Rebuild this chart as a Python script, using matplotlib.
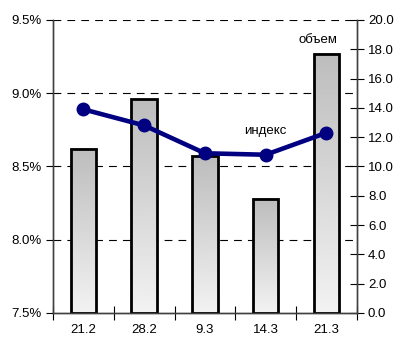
import numpy as np
import matplotlib.pyplot as plt

plt.rcParams['font.family'] = ['Liberation Sans', 'DejaVu Sans']

dates = ["21.2", "28.2", "9.3", "14.3", "21.3"]
volume = [11.2, 14.6, 10.7, 7.8, 17.7]
index_pct = [8.89, 8.78, 8.59, 8.58, 8.73]

fig = plt.figure(figsize=(4.06, 3.38), dpi=100)
ax = fig.add_subplot(111)
fig.subplots_adjust(left=0.1305, right=0.879, top=0.941, bottom=0.074)

x = np.arange(len(dates))

# dashed grid behind bars
for v in [5, 10, 15, 20]:
    ax.axhline(v, color='black', linestyle=(0, (7, 5.5)), linewidth=0.8, zorder=0)

bars = ax.bar(x, volume, width=0.42, facecolor='none', edgecolor='black',
              linewidth=2, zorder=3)
grad = np.linspace(0.74, 0.95, 256).reshape(-1, 1)
for b in bars:
    x0, w, h = b.get_x(), b.get_width(), b.get_height()
    ax.imshow(grad, cmap='gray', vmin=0, vmax=1, aspect='auto',
              extent=(x0, x0 + w, 0, h), origin='upper', zorder=2)

ax.set_xlim(-0.5, 4.5)
ax.set_ylim(0, 20)
ax.set_xticks(np.arange(-0.5, 5, 1))
ax.set_xticklabels([])
ax.set_xticks(x, minor=True)
ax.set_xticklabels(dates, minor=True)
ax.tick_params(axis='x', which='major', direction='inout', length=10)
ax.tick_params(axis='x', which='minor', length=0, labelsize=9.5, pad=8)

ax2 = ax.twinx()
ax2.plot(x, index_pct, color='#000080', linewidth=3.3, marker='o', markersize=9, zorder=5)
ax2.set_ylim(7.5, 9.5)
ax2.yaxis.tick_left()
ax2.set_yticks([7.5, 8.0, 8.5, 9.0, 9.5])
ax2.set_yticklabels(["7.5%", "8.0%", "8.5%", "9.0%", "9.5%"])
ax2.tick_params(axis='y', direction='out', length=5, labelsize=9.5, pad=3)
ax2.text(3.0, 8.74, "индекс", ha='center', va='center', fontsize=9.5)
ax2.text(3.86, 9.36, "объем", ha='center', va='center', fontsize=9.5)

# volume axis on the right (after twinx, which resets it)
ax.yaxis.tick_right()
ax.set_yticks(np.arange(0, 21, 2))
ax.set_yticklabels([f"{v:.1f}" for v in np.arange(0, 21, 2)])
ax.tick_params(axis='y', direction='inout', length=10, labelsize=9.5, pad=3)

for a in (ax, ax2):
    a.spines['top'].set_visible(False)
    for s in ('left', 'right', 'bottom'):
        a.spines[s].set_color('#404040')
        a.spines[s].set_linewidth(1.0)

fig.savefig("out.png", dpi=100)
